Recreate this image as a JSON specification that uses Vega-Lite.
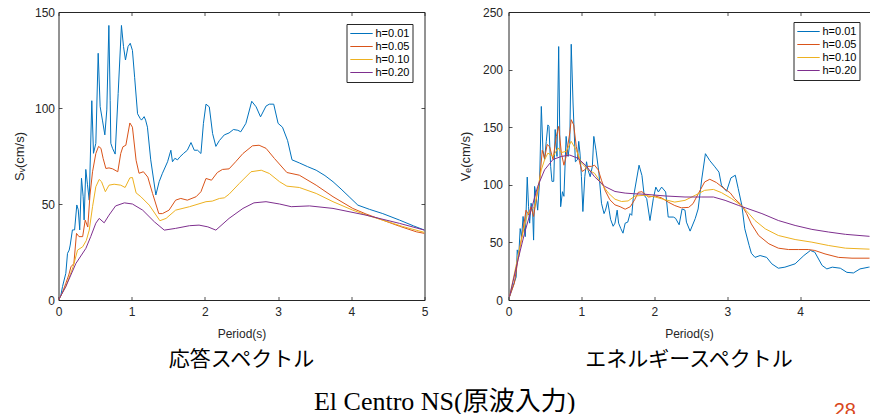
{
"$schema": "https://vega.github.io/schema/vega-lite/v6.json",
"padding": {"left": 12.5, "top": 6, "right": 0, "bottom": 0},
"background": "white",
"config": {
  "font": "Liberation Sans",
  "view": {"stroke": null},
  "axis": {"grid": false, "domainColor": "#262626", "domainWidth": 1, "tickColor": "#262626", "tickWidth": 0.8, "tickSize": -3.5, "labelColor": "#262626", "titleColor": "#262626", "labelFont": "Liberation Sans", "labelFontSize": 12, "titleFont": "Liberation Sans, DejaVu Sans", "titleFontSize": 13, "titleFontWeight": "normal", "labelFlush": false, "labelOverlap": false},
  "legend": {"labelFont": "Liberation Sans", "labelFontSize": 11, "labelColor": "#000000", "symbolType": "stroke", "symbolSize": 500, "symbolStrokeWidth": 1.2, "strokeColor": "#262626", "fillColor": "white", "padding": 3, "rowPadding": 0, "clipHeight": 13, "labelOffset": 2, "cornerRadius": 0}
},
"datasets": {
"sv": [
{"t":0,"v":0,"h":"h=0.01"},{"t":0.03,"v":2,"h":"h=0.01"},{"t":0.055,"v":7,"h":"h=0.01"},{"t":0.077,"v":10.4,"h":"h=0.01"},{"t":0.1,"v":13.9,"h":"h=0.01"},{"t":0.123,"v":24.3,"h":"h=0.01"},{"t":0.146,"v":26,"h":"h=0.01"},{"t":0.16,"v":28.6,"h":"h=0.01"},{"t":0.19,"v":36.5,"h":"h=0.01"},{"t":0.22,"v":36.5,"h":"h=0.01"},{"t":0.25,"v":49.5,"h":"h=0.01"},{"t":0.27,"v":47,"h":"h=0.01"},{"t":0.29,"v":36.5,"h":"h=0.01"},{"t":0.314,"v":63.4,"h":"h=0.01"},{"t":0.337,"v":53.8,"h":"h=0.01"},{"t":0.35,"v":41.7,"h":"h=0.01"},{"t":0.373,"v":68,"h":"h=0.01"},{"t":0.396,"v":60,"h":"h=0.01"},{"t":0.42,"v":52,"h":"h=0.01"},{"t":0.455,"v":103.8,"h":"h=0.01"},{"t":0.478,"v":76.4,"h":"h=0.01"},{"t":0.51,"v":81.6,"h":"h=0.01"},{"t":0.542,"v":128.5,"h":"h=0.01"},{"t":0.569,"v":100.7,"h":"h=0.01"},{"t":0.6,"v":93.7,"h":"h=0.01"},{"t":0.633,"v":86,"h":"h=0.01"},{"t":0.66,"v":99,"h":"h=0.01"},{"t":0.688,"v":143,"h":"h=0.01"},{"t":0.706,"v":104,"h":"h=0.01"},{"t":0.715,"v":81.6,"h":"h=0.01"},{"t":0.738,"v":79,"h":"h=0.01"},{"t":0.774,"v":76,"h":"h=0.01"},{"t":0.815,"v":107.6,"h":"h=0.01"},{"t":0.86,"v":143,"h":"h=0.01"},{"t":0.888,"v":132,"h":"h=0.01"},{"t":0.915,"v":125,"h":"h=0.01"},{"t":0.95,"v":132,"h":"h=0.01"},{"t":0.98,"v":133.7,"h":"h=0.01"},{"t":1.01,"v":130,"h":"h=0.01"},{"t":1.04,"v":116,"h":"h=0.01"},{"t":1.08,"v":97,"h":"h=0.01"},{"t":1.115,"v":94.6,"h":"h=0.01"},{"t":1.134,"v":93.7,"h":"h=0.01"},{"t":1.17,"v":95.5,"h":"h=0.01"},{"t":1.19,"v":93.7,"h":"h=0.01"},{"t":1.215,"v":90,"h":"h=0.01"},{"t":1.26,"v":73,"h":"h=0.01"},{"t":1.3,"v":62.5,"h":"h=0.01"},{"t":1.33,"v":54.7,"h":"h=0.01"},{"t":1.375,"v":61.6,"h":"h=0.01"},{"t":1.42,"v":66,"h":"h=0.01"},{"t":1.44,"v":67.7,"h":"h=0.01"},{"t":1.49,"v":72,"h":"h=0.01"},{"t":1.535,"v":78,"h":"h=0.01"},{"t":1.557,"v":72,"h":"h=0.01"},{"t":1.59,"v":73.8,"h":"h=0.01"},{"t":1.626,"v":73,"h":"h=0.01"},{"t":1.66,"v":74.6,"h":"h=0.01"},{"t":1.71,"v":76.4,"h":"h=0.01"},{"t":1.76,"v":78,"h":"h=0.01"},{"t":1.81,"v":82,"h":"h=0.01"},{"t":1.855,"v":78,"h":"h=0.01"},{"t":1.9,"v":78,"h":"h=0.01"},{"t":1.946,"v":76.3,"h":"h=0.01"},{"t":1.98,"v":92,"h":"h=0.01"},{"t":2.015,"v":102,"h":"h=0.01"},{"t":2.06,"v":100.6,"h":"h=0.01"},{"t":2.105,"v":86.7,"h":"h=0.01"},{"t":2.15,"v":80,"h":"h=0.01"},{"t":2.197,"v":83,"h":"h=0.01"},{"t":2.265,"v":86,"h":"h=0.01"},{"t":2.33,"v":87,"h":"h=0.01"},{"t":2.39,"v":88.8,"h":"h=0.01"},{"t":2.45,"v":88.4,"h":"h=0.01"},{"t":2.49,"v":87.6,"h":"h=0.01"},{"t":2.56,"v":92,"h":"h=0.01"},{"t":2.64,"v":103.5,"h":"h=0.01"},{"t":2.7,"v":100.6,"h":"h=0.01"},{"t":2.76,"v":95.4,"h":"h=0.01"},{"t":2.835,"v":101,"h":"h=0.01"},{"t":2.88,"v":102,"h":"h=0.01"},{"t":2.94,"v":102,"h":"h=0.01"},{"t":3.0,"v":92,"h":"h=0.01"},{"t":3.06,"v":90,"h":"h=0.01"},{"t":3.13,"v":83,"h":"h=0.01"},{"t":3.19,"v":73,"h":"h=0.01"},{"t":3.29,"v":71.4,"h":"h=0.01"},{"t":3.4,"v":69.5,"h":"h=0.01"},{"t":3.52,"v":67.6,"h":"h=0.01"},{"t":3.64,"v":64.8,"h":"h=0.01"},{"t":3.75,"v":61.6,"h":"h=0.01"},{"t":3.86,"v":57.8,"h":"h=0.01"},{"t":3.97,"v":53.8,"h":"h=0.01"},{"t":4.09,"v":49.4,"h":"h=0.01"},{"t":4.25,"v":47.2,"h":"h=0.01"},{"t":4.43,"v":45,"h":"h=0.01"},{"t":4.66,"v":41.6,"h":"h=0.01"},{"t":4.85,"v":38.6,"h":"h=0.01"},{"t":5.0,"v":36.4,"h":"h=0.01"},
{"t":0,"v":0,"h":"h=0.05"},{"t":0.05,"v":3.5,"h":"h=0.05"},{"t":0.1,"v":8.7,"h":"h=0.05"},{"t":0.14,"v":13,"h":"h=0.05"},{"t":0.17,"v":17.3,"h":"h=0.05"},{"t":0.21,"v":19,"h":"h=0.05"},{"t":0.246,"v":34.7,"h":"h=0.05"},{"t":0.28,"v":33,"h":"h=0.05"},{"t":0.33,"v":33,"h":"h=0.05"},{"t":0.365,"v":41.6,"h":"h=0.05"},{"t":0.4,"v":38,"h":"h=0.05"},{"t":0.43,"v":54.6,"h":"h=0.05"},{"t":0.465,"v":66.8,"h":"h=0.05"},{"t":0.51,"v":76.3,"h":"h=0.05"},{"t":0.547,"v":80,"h":"h=0.05"},{"t":0.58,"v":79,"h":"h=0.05"},{"t":0.61,"v":73.7,"h":"h=0.05"},{"t":0.647,"v":68.5,"h":"h=0.05"},{"t":0.69,"v":68.8,"h":"h=0.05"},{"t":0.74,"v":68.3,"h":"h=0.05"},{"t":0.81,"v":66.8,"h":"h=0.05"},{"t":0.85,"v":76.3,"h":"h=0.05"},{"t":0.88,"v":79.8,"h":"h=0.05"},{"t":0.92,"v":80.6,"h":"h=0.05"},{"t":0.975,"v":92.2,"h":"h=0.05"},{"t":1.01,"v":90,"h":"h=0.05"},{"t":1.06,"v":72.8,"h":"h=0.05"},{"t":1.1,"v":66,"h":"h=0.05"},{"t":1.16,"v":66.8,"h":"h=0.05"},{"t":1.22,"v":64,"h":"h=0.05"},{"t":1.285,"v":55.5,"h":"h=0.05"},{"t":1.37,"v":45,"h":"h=0.05"},{"t":1.42,"v":45,"h":"h=0.05"},{"t":1.51,"v":46.8,"h":"h=0.05"},{"t":1.6,"v":52,"h":"h=0.05"},{"t":1.67,"v":52.9,"h":"h=0.05"},{"t":1.76,"v":52,"h":"h=0.05"},{"t":1.88,"v":53.8,"h":"h=0.05"},{"t":1.946,"v":56.4,"h":"h=0.05"},{"t":2.015,"v":63.3,"h":"h=0.05"},{"t":2.09,"v":62.4,"h":"h=0.05"},{"t":2.17,"v":66.4,"h":"h=0.05"},{"t":2.24,"v":68,"h":"h=0.05"},{"t":2.33,"v":68.3,"h":"h=0.05"},{"t":2.42,"v":72,"h":"h=0.05"},{"t":2.52,"v":76.3,"h":"h=0.05"},{"t":2.65,"v":80.3,"h":"h=0.05"},{"t":2.74,"v":80.6,"h":"h=0.05"},{"t":2.835,"v":79,"h":"h=0.05"},{"t":2.95,"v":73.7,"h":"h=0.05"},{"t":3.12,"v":66.4,"h":"h=0.05"},{"t":3.29,"v":65,"h":"h=0.05"},{"t":3.52,"v":59.8,"h":"h=0.05"},{"t":3.75,"v":53.8,"h":"h=0.05"},{"t":4.02,"v":47.7,"h":"h=0.05"},{"t":4.2,"v":44.8,"h":"h=0.05"},{"t":4.43,"v":41.6,"h":"h=0.05"},{"t":4.66,"v":38.4,"h":"h=0.05"},{"t":4.89,"v":35.5,"h":"h=0.05"},{"t":5.0,"v":34.7,"h":"h=0.05"},
{"t":0,"v":0,"h":"h=0.10"},{"t":0.1,"v":7,"h":"h=0.10"},{"t":0.2,"v":17.3,"h":"h=0.10"},{"t":0.26,"v":26,"h":"h=0.10"},{"t":0.33,"v":27.7,"h":"h=0.10"},{"t":0.38,"v":31,"h":"h=0.10"},{"t":0.42,"v":36.4,"h":"h=0.10"},{"t":0.465,"v":48.6,"h":"h=0.10"},{"t":0.51,"v":59,"h":"h=0.10"},{"t":0.556,"v":62.8,"h":"h=0.10"},{"t":0.588,"v":61.6,"h":"h=0.10"},{"t":0.64,"v":56.4,"h":"h=0.10"},{"t":0.69,"v":59.8,"h":"h=0.10"},{"t":0.76,"v":60.3,"h":"h=0.10"},{"t":0.85,"v":59.8,"h":"h=0.10"},{"t":0.91,"v":58.6,"h":"h=0.10"},{"t":0.975,"v":63.6,"h":"h=0.10"},{"t":1.01,"v":63.8,"h":"h=0.10"},{"t":1.06,"v":55.8,"h":"h=0.10"},{"t":1.125,"v":53.8,"h":"h=0.10"},{"t":1.24,"v":49.4,"h":"h=0.10"},{"t":1.385,"v":41.3,"h":"h=0.10"},{"t":1.47,"v":42.5,"h":"h=0.10"},{"t":1.6,"v":46.8,"h":"h=0.10"},{"t":1.79,"v":48.6,"h":"h=0.10"},{"t":2.015,"v":51.2,"h":"h=0.10"},{"t":2.1,"v":51.5,"h":"h=0.10"},{"t":2.2,"v":52.9,"h":"h=0.10"},{"t":2.265,"v":53.2,"h":"h=0.10"},{"t":2.33,"v":55.1,"h":"h=0.10"},{"t":2.47,"v":60.7,"h":"h=0.10"},{"t":2.63,"v":66.8,"h":"h=0.10"},{"t":2.77,"v":67.6,"h":"h=0.10"},{"t":2.88,"v":65.9,"h":"h=0.10"},{"t":3.02,"v":61.6,"h":"h=0.10"},{"t":3.12,"v":59.3,"h":"h=0.10"},{"t":3.29,"v":58.6,"h":"h=0.10"},{"t":3.52,"v":55.5,"h":"h=0.10"},{"t":3.75,"v":51.2,"h":"h=0.10"},{"t":4.02,"v":46.8,"h":"h=0.10"},{"t":4.2,"v":44.3,"h":"h=0.10"},{"t":4.43,"v":41.6,"h":"h=0.10"},{"t":4.7,"v":38.3,"h":"h=0.10"},{"t":5.0,"v":35.2,"h":"h=0.10"},
{"t":0,"v":0,"h":"h=0.20"},{"t":0.1,"v":7,"h":"h=0.20"},{"t":0.237,"v":19,"h":"h=0.20"},{"t":0.374,"v":26.9,"h":"h=0.20"},{"t":0.44,"v":33,"h":"h=0.20"},{"t":0.51,"v":40,"h":"h=0.20"},{"t":0.556,"v":42.5,"h":"h=0.20"},{"t":0.624,"v":40.2,"h":"h=0.20"},{"t":0.69,"v":44.2,"h":"h=0.20"},{"t":0.78,"v":49,"h":"h=0.20"},{"t":0.9,"v":50.6,"h":"h=0.20"},{"t":1.01,"v":50,"h":"h=0.20"},{"t":1.15,"v":46.8,"h":"h=0.20"},{"t":1.31,"v":40.7,"h":"h=0.20"},{"t":1.445,"v":36.4,"h":"h=0.20"},{"t":1.6,"v":37.3,"h":"h=0.20"},{"t":1.79,"v":38.7,"h":"h=0.20"},{"t":1.92,"v":39,"h":"h=0.20"},{"t":2.04,"v":38.1,"h":"h=0.20"},{"t":2.15,"v":36.4,"h":"h=0.20"},{"t":2.33,"v":42.5,"h":"h=0.20"},{"t":2.52,"v":47.7,"h":"h=0.20"},{"t":2.67,"v":50.6,"h":"h=0.20"},{"t":2.835,"v":51.2,"h":"h=0.20"},{"t":3.02,"v":50,"h":"h=0.20"},{"t":3.18,"v":48.6,"h":"h=0.20"},{"t":3.43,"v":49,"h":"h=0.20"},{"t":3.75,"v":47.7,"h":"h=0.20"},{"t":4.2,"v":44.2,"h":"h=0.20"},{"t":4.66,"v":39.9,"h":"h=0.20"},{"t":5.0,"v":36.4,"h":"h=0.20"}
],
"ve": [
{"t":0.014,"v":2.9,"h":"h=0.01"},{"t":0.06,"v":11.6,"h":"h=0.01"},{"t":0.105,"v":20,"h":"h=0.01"},{"t":0.12,"v":43.5,"h":"h=0.01"},{"t":0.14,"v":37.7,"h":"h=0.01"},{"t":0.16,"v":62,"h":"h=0.01"},{"t":0.18,"v":55,"h":"h=0.01"},{"t":0.2,"v":72.5,"h":"h=0.01"},{"t":0.23,"v":55,"h":"h=0.01"},{"t":0.257,"v":106.7,"h":"h=0.01"},{"t":0.275,"v":81,"h":"h=0.01"},{"t":0.29,"v":66.7,"h":"h=0.01"},{"t":0.31,"v":84,"h":"h=0.01"},{"t":0.33,"v":78,"h":"h=0.01"},{"t":0.344,"v":52,"h":"h=0.01"},{"t":0.358,"v":98.6,"h":"h=0.01"},{"t":0.38,"v":90,"h":"h=0.01"},{"t":0.4,"v":78,"h":"h=0.01"},{"t":0.427,"v":104,"h":"h=0.01"},{"t":0.45,"v":168,"h":"h=0.01"},{"t":0.472,"v":130,"h":"h=0.01"},{"t":0.495,"v":122,"h":"h=0.01"},{"t":0.518,"v":137.7,"h":"h=0.01"},{"t":0.54,"v":152,"h":"h=0.01"},{"t":0.555,"v":150.7,"h":"h=0.01"},{"t":0.578,"v":116,"h":"h=0.01"},{"t":0.596,"v":103,"h":"h=0.01"},{"t":0.62,"v":103,"h":"h=0.01"},{"t":0.64,"v":148,"h":"h=0.01"},{"t":0.665,"v":124.6,"h":"h=0.01"},{"t":0.688,"v":220,"h":"h=0.01"},{"t":0.715,"v":81,"h":"h=0.01"},{"t":0.74,"v":94,"h":"h=0.01"},{"t":0.76,"v":90,"h":"h=0.01"},{"t":0.79,"v":142,"h":"h=0.01"},{"t":0.817,"v":124.6,"h":"h=0.01"},{"t":0.84,"v":136,"h":"h=0.01"},{"t":0.86,"v":222,"h":"h=0.01"},{"t":0.885,"v":171,"h":"h=0.01"},{"t":0.917,"v":120,"h":"h=0.01"},{"t":0.945,"v":121.7,"h":"h=0.01"},{"t":0.963,"v":137.7,"h":"h=0.01"},{"t":0.98,"v":127.5,"h":"h=0.01"},{"t":1.0,"v":107,"h":"h=0.01"},{"t":1.02,"v":76.8,"h":"h=0.01"},{"t":1.046,"v":107,"h":"h=0.01"},{"t":1.07,"v":120,"h":"h=0.01"},{"t":1.09,"v":113,"h":"h=0.01"},{"t":1.12,"v":107,"h":"h=0.01"},{"t":1.15,"v":116,"h":"h=0.01"},{"t":1.17,"v":142,"h":"h=0.01"},{"t":1.2,"v":130,"h":"h=0.01"},{"t":1.24,"v":110,"h":"h=0.01"},{"t":1.275,"v":84,"h":"h=0.01"},{"t":1.31,"v":75,"h":"h=0.01"},{"t":1.33,"v":78,"h":"h=0.01"},{"t":1.36,"v":85.5,"h":"h=0.01"},{"t":1.38,"v":78,"h":"h=0.01"},{"t":1.4,"v":70,"h":"h=0.01"},{"t":1.435,"v":64,"h":"h=0.01"},{"t":1.46,"v":66.7,"h":"h=0.01"},{"t":1.49,"v":78,"h":"h=0.01"},{"t":1.51,"v":66.7,"h":"h=0.01"},{"t":1.54,"v":62,"h":"h=0.01"},{"t":1.57,"v":58,"h":"h=0.01"},{"t":1.6,"v":66.7,"h":"h=0.01"},{"t":1.635,"v":67.6,"h":"h=0.01"},{"t":1.667,"v":75,"h":"h=0.01"},{"t":1.69,"v":73.5,"h":"h=0.01"},{"t":1.71,"v":88,"h":"h=0.01"},{"t":1.79,"v":117,"h":"h=0.01"},{"t":1.83,"v":108,"h":"h=0.01"},{"t":1.86,"v":91,"h":"h=0.01"},{"t":1.895,"v":88,"h":"h=0.01"},{"t":1.94,"v":69,"h":"h=0.01"},{"t":1.986,"v":88,"h":"h=0.01"},{"t":2.02,"v":98,"h":"h=0.01"},{"t":2.055,"v":93.8,"h":"h=0.01"},{"t":2.1,"v":98,"h":"h=0.01"},{"t":2.155,"v":93.8,"h":"h=0.01"},{"t":2.19,"v":72,"h":"h=0.01"},{"t":2.26,"v":72,"h":"h=0.01"},{"t":2.29,"v":71,"h":"h=0.01"},{"t":2.34,"v":65.3,"h":"h=0.01"},{"t":2.38,"v":79,"h":"h=0.01"},{"t":2.42,"v":78,"h":"h=0.01"},{"t":2.44,"v":67.6,"h":"h=0.01"},{"t":2.49,"v":59.8,"h":"h=0.01"},{"t":2.56,"v":70.6,"h":"h=0.01"},{"t":2.6,"v":79,"h":"h=0.01"},{"t":2.65,"v":105,"h":"h=0.01"},{"t":2.7,"v":127,"h":"h=0.01"},{"t":2.76,"v":121,"h":"h=0.01"},{"t":2.83,"v":115.6,"h":"h=0.01"},{"t":2.886,"v":111,"h":"h=0.01"},{"t":2.92,"v":99.6,"h":"h=0.01"},{"t":2.99,"v":94.4,"h":"h=0.01"},{"t":3.05,"v":106,"h":"h=0.01"},{"t":3.11,"v":108.3,"h":"h=0.01"},{"t":3.15,"v":96.7,"h":"h=0.01"},{"t":3.2,"v":82,"h":"h=0.01"},{"t":3.24,"v":61.8,"h":"h=0.01"},{"t":3.3,"v":47.3,"h":"h=0.01"},{"t":3.33,"v":40.6,"h":"h=0.01"},{"t":3.38,"v":37,"h":"h=0.01"},{"t":3.45,"v":38.6,"h":"h=0.01"},{"t":3.54,"v":37,"h":"h=0.01"},{"t":3.61,"v":31.4,"h":"h=0.01"},{"t":3.7,"v":27.6,"h":"h=0.01"},{"t":3.79,"v":28.5,"h":"h=0.01"},{"t":3.93,"v":31.4,"h":"h=0.01"},{"t":4.05,"v":38.6,"h":"h=0.01"},{"t":4.14,"v":43,"h":"h=0.01"},{"t":4.2,"v":41.5,"h":"h=0.01"},{"t":4.3,"v":30,"h":"h=0.01"},{"t":4.365,"v":27,"h":"h=0.01"},{"t":4.44,"v":28.5,"h":"h=0.01"},{"t":4.55,"v":27.6,"h":"h=0.01"},{"t":4.64,"v":24,"h":"h=0.01"},{"t":4.73,"v":23.5,"h":"h=0.01"},{"t":4.82,"v":27,"h":"h=0.01"},{"t":4.94,"v":28.5,"h":"h=0.01"},{"t":5.0,"v":29,"h":"h=0.01"},
{"t":0.014,"v":2.9,"h":"h=0.05"},{"t":0.08,"v":14.5,"h":"h=0.05"},{"t":0.15,"v":43.5,"h":"h=0.05"},{"t":0.2,"v":61,"h":"h=0.05"},{"t":0.24,"v":78,"h":"h=0.05"},{"t":0.275,"v":74,"h":"h=0.05"},{"t":0.31,"v":81,"h":"h=0.05"},{"t":0.344,"v":72.5,"h":"h=0.05"},{"t":0.38,"v":87,"h":"h=0.05"},{"t":0.427,"v":104,"h":"h=0.05"},{"t":0.463,"v":130,"h":"h=0.05"},{"t":0.495,"v":123,"h":"h=0.05"},{"t":0.53,"v":135,"h":"h=0.05"},{"t":0.564,"v":133,"h":"h=0.05"},{"t":0.61,"v":122,"h":"h=0.05"},{"t":0.656,"v":142,"h":"h=0.05"},{"t":0.688,"v":150.7,"h":"h=0.05"},{"t":0.725,"v":127.5,"h":"h=0.05"},{"t":0.76,"v":117,"h":"h=0.05"},{"t":0.79,"v":124.6,"h":"h=0.05"},{"t":0.84,"v":145,"h":"h=0.05"},{"t":0.86,"v":156.5,"h":"h=0.05"},{"t":0.894,"v":152,"h":"h=0.05"},{"t":0.93,"v":133,"h":"h=0.05"},{"t":0.977,"v":119,"h":"h=0.05"},{"t":1.01,"v":111.6,"h":"h=0.05"},{"t":1.046,"v":113,"h":"h=0.05"},{"t":1.09,"v":116,"h":"h=0.05"},{"t":1.14,"v":116,"h":"h=0.05"},{"t":1.18,"v":117,"h":"h=0.05"},{"t":1.23,"v":113,"h":"h=0.05"},{"t":1.275,"v":104,"h":"h=0.05"},{"t":1.32,"v":95.7,"h":"h=0.05"},{"t":1.39,"v":87,"h":"h=0.05"},{"t":1.46,"v":82.6,"h":"h=0.05"},{"t":1.53,"v":81,"h":"h=0.05"},{"t":1.6,"v":78.8,"h":"h=0.05"},{"t":1.67,"v":81,"h":"h=0.05"},{"t":1.73,"v":87,"h":"h=0.05"},{"t":1.78,"v":93.5,"h":"h=0.05"},{"t":1.83,"v":94,"h":"h=0.05"},{"t":1.92,"v":89.4,"h":"h=0.05"},{"t":2.01,"v":90.3,"h":"h=0.05"},{"t":2.1,"v":88.6,"h":"h=0.05"},{"t":2.19,"v":85,"h":"h=0.05"},{"t":2.28,"v":82,"h":"h=0.05"},{"t":2.37,"v":80,"h":"h=0.05"},{"t":2.47,"v":80.4,"h":"h=0.05"},{"t":2.53,"v":83.6,"h":"h=0.05"},{"t":2.6,"v":92,"h":"h=0.05"},{"t":2.69,"v":102.5,"h":"h=0.05"},{"t":2.76,"v":104.8,"h":"h=0.05"},{"t":2.85,"v":102,"h":"h=0.05"},{"t":2.945,"v":97.3,"h":"h=0.05"},{"t":3.04,"v":93,"h":"h=0.05"},{"t":3.1,"v":88,"h":"h=0.05"},{"t":3.2,"v":82,"h":"h=0.05"},{"t":3.265,"v":75,"h":"h=0.05"},{"t":3.33,"v":66,"h":"h=0.05"},{"t":3.43,"v":56,"h":"h=0.05"},{"t":3.57,"v":48.8,"h":"h=0.05"},{"t":3.7,"v":45,"h":"h=0.05"},{"t":3.84,"v":43.8,"h":"h=0.05"},{"t":3.98,"v":43.8,"h":"h=0.05"},{"t":4.11,"v":43.8,"h":"h=0.05"},{"t":4.2,"v":43,"h":"h=0.05"},{"t":4.34,"v":40,"h":"h=0.05"},{"t":4.525,"v":37,"h":"h=0.05"},{"t":4.71,"v":36.3,"h":"h=0.05"},{"t":5.0,"v":36.3,"h":"h=0.05"},
{"t":0.014,"v":2.9,"h":"h=0.10"},{"t":0.13,"v":37.7,"h":"h=0.10"},{"t":0.2,"v":59,"h":"h=0.10"},{"t":0.257,"v":74,"h":"h=0.10"},{"t":0.31,"v":78,"h":"h=0.10"},{"t":0.358,"v":81,"h":"h=0.10"},{"t":0.4,"v":95.7,"h":"h=0.10"},{"t":0.45,"v":113,"h":"h=0.10"},{"t":0.495,"v":121.7,"h":"h=0.10"},{"t":0.54,"v":127.5,"h":"h=0.10"},{"t":0.61,"v":124.6,"h":"h=0.10"},{"t":0.68,"v":132,"h":"h=0.10"},{"t":0.725,"v":128,"h":"h=0.10"},{"t":0.79,"v":129,"h":"h=0.10"},{"t":0.86,"v":137.7,"h":"h=0.10"},{"t":0.93,"v":130,"h":"h=0.10"},{"t":1.0,"v":119,"h":"h=0.10"},{"t":1.09,"v":113,"h":"h=0.10"},{"t":1.18,"v":110,"h":"h=0.10"},{"t":1.275,"v":101,"h":"h=0.10"},{"t":1.37,"v":92.8,"h":"h=0.10"},{"t":1.46,"v":87.5,"h":"h=0.10"},{"t":1.55,"v":85.5,"h":"h=0.10"},{"t":1.64,"v":86,"h":"h=0.10"},{"t":1.735,"v":90.3,"h":"h=0.10"},{"t":1.87,"v":90.9,"h":"h=0.10"},{"t":2.01,"v":89.4,"h":"h=0.10"},{"t":2.15,"v":87,"h":"h=0.10"},{"t":2.28,"v":85,"h":"h=0.10"},{"t":2.42,"v":86.5,"h":"h=0.10"},{"t":2.56,"v":90.9,"h":"h=0.10"},{"t":2.69,"v":95.2,"h":"h=0.10"},{"t":2.81,"v":96,"h":"h=0.10"},{"t":2.92,"v":93.2,"h":"h=0.10"},{"t":3.06,"v":88,"h":"h=0.10"},{"t":3.2,"v":81.6,"h":"h=0.10"},{"t":3.31,"v":74,"h":"h=0.10"},{"t":3.38,"v":69,"h":"h=0.10"},{"t":3.52,"v":61.8,"h":"h=0.10"},{"t":3.7,"v":56,"h":"h=0.10"},{"t":3.93,"v":52.5,"h":"h=0.10"},{"t":4.16,"v":50.2,"h":"h=0.10"},{"t":4.39,"v":47.3,"h":"h=0.10"},{"t":4.62,"v":45,"h":"h=0.10"},{"t":5.0,"v":44,"h":"h=0.10"},
{"t":0.014,"v":2.9,"h":"h=0.20"},{"t":0.13,"v":34.8,"h":"h=0.20"},{"t":0.22,"v":58,"h":"h=0.20"},{"t":0.31,"v":78,"h":"h=0.20"},{"t":0.4,"v":98.6,"h":"h=0.20"},{"t":0.495,"v":113,"h":"h=0.20"},{"t":0.61,"v":122,"h":"h=0.20"},{"t":0.725,"v":124.6,"h":"h=0.20"},{"t":0.84,"v":125.8,"h":"h=0.20"},{"t":0.954,"v":123,"h":"h=0.20"},{"t":1.07,"v":116,"h":"h=0.20"},{"t":1.18,"v":107,"h":"h=0.20"},{"t":1.32,"v":98.6,"h":"h=0.20"},{"t":1.46,"v":94.2,"h":"h=0.20"},{"t":1.6,"v":92.8,"h":"h=0.20"},{"t":1.73,"v":92.2,"h":"h=0.20"},{"t":1.87,"v":91.8,"h":"h=0.20"},{"t":2.15,"v":90.3,"h":"h=0.20"},{"t":2.42,"v":89.4,"h":"h=0.20"},{"t":2.65,"v":89.4,"h":"h=0.20"},{"t":2.81,"v":89.4,"h":"h=0.20"},{"t":2.97,"v":86.5,"h":"h=0.20"},{"t":3.15,"v":82.2,"h":"h=0.20"},{"t":3.25,"v":80,"h":"h=0.20"},{"t":3.475,"v":75,"h":"h=0.20"},{"t":3.7,"v":69,"h":"h=0.20"},{"t":3.93,"v":64.7,"h":"h=0.20"},{"t":4.16,"v":61.3,"h":"h=0.20"},{"t":4.39,"v":59,"h":"h=0.20"},{"t":4.62,"v":57,"h":"h=0.20"},{"t":5.0,"v":55,"h":"h=0.20"}
]
},
"title": {"text": "28", "orient": "bottom", "anchor": "end", "color": "#D9481C", "font": "Liberation Sans", "fontSize": 20, "fontWeight": "normal", "offset": 0, "dx": -20, "dy": -14},
"vconcat": [{
  "title": {"text": "El Centro NS(原波入力)", "orient": "bottom", "anchor": "middle", "font": "Liberation Serif, Noto Sans CJK JP", "fontSize": 26, "fontWeight": "normal", "color": "#000000", "offset": 19},
  "spacing": 30,
  "resolve": {"scale": {"color": "independent"}, "legend": {"color": "independent"}},
  "hconcat": [
  {
    "width": 366, "height": 288,
    "data": {"name": "sv"},
    "title": {"text": "応答スペクトル", "orient": "bottom", "anchor": "middle", "font": "Noto Sans CJK JP", "fontSize": 21, "fontWeight": "normal", "color": "#000000", "offset": 9},
    "layer": [
      {"mark": {"type": "line", "strokeWidth": 1, "clip": true},
       "encoding": {
         "x": {"field": "t", "type": "quantitative", "scale": {"domain": [0, 5], "nice": false, "zero": false}, "axis": {"title": "Period(s)", "titleFontSize": 12, "values": [0, 1, 2, 3, 4, 5], "labelPadding": 10, "titlePadding": 11}},
         "y": {"field": "v", "type": "quantitative", "scale": {"domain": [0, 150], "nice": false}, "axis": {"title": "Sᵥ(cm/s)", "values": [0, 50, 100, 150], "labelPadding": 7.5, "titlePadding": 8}},
         "color": {"field": "h", "type": "nominal", "scale": {"domain": ["h=0.01", "h=0.05", "h=0.10", "h=0.20"], "range": ["#0072BD", "#D95319", "#EDB120", "#7E2F8E"]}, "legend": {"title": null, "orient": "top-right", "offset": 12}}
       }},
      {"mark": {"type": "point", "opacity": 0},
       "encoding": {
         "x": {"field": "t", "type": "quantitative", "axis": {"orient": "top", "labels": false, "title": null, "values": [0, 1, 2, 3, 4, 5]}},
         "y": {"field": "v", "type": "quantitative", "axis": {"orient": "right", "labels": false, "title": null, "values": [0, 50, 100, 150]}}
       }}
    ],
    "resolve": {"axis": {"x": "independent", "y": "independent"}}
  },
  {
    "width": 361, "height": 288,
    "data": {"name": "ve"},
    "title": {"text": "エネルギースペクトル", "orient": "bottom", "anchor": "middle", "font": "Noto Sans CJK JP", "fontSize": 21, "fontWeight": "normal", "color": "#000000", "offset": 9},
    "layer": [
      {"mark": {"type": "line", "strokeWidth": 1, "clip": true},
       "encoding": {
         "x": {"field": "t", "type": "quantitative", "scale": {"domain": [0, 4.95], "nice": false, "zero": false}, "axis": {"title": "Period(s)", "titleFontSize": 12, "values": [0, 1, 2, 3, 4], "labelPadding": 10, "titlePadding": 11}},
         "y": {"field": "v", "type": "quantitative", "scale": {"domain": [0, 250], "nice": false}, "axis": {"title": "Vₑ(cm/s)", "values": [0, 50, 100, 150, 200, 250], "labelPadding": 9.5, "titlePadding": 10}},
         "color": {"field": "h", "type": "nominal", "scale": {"domain": ["h=0.01", "h=0.05", "h=0.10", "h=0.20"], "range": ["#0072BD", "#D95319", "#EDB120", "#7E2F8E"]}, "legend": {"title": null, "orient": "top-right", "offset": 10}}
       }},
      {"mark": {"type": "point", "opacity": 0},
       "encoding": {
         "x": {"field": "t", "type": "quantitative", "axis": {"orient": "top", "labels": false, "title": null, "values": [0, 1, 2, 3, 4]}}
       }}
    ],
    "resolve": {"axis": {"x": "independent"}}
  }
  ]
}]
}
